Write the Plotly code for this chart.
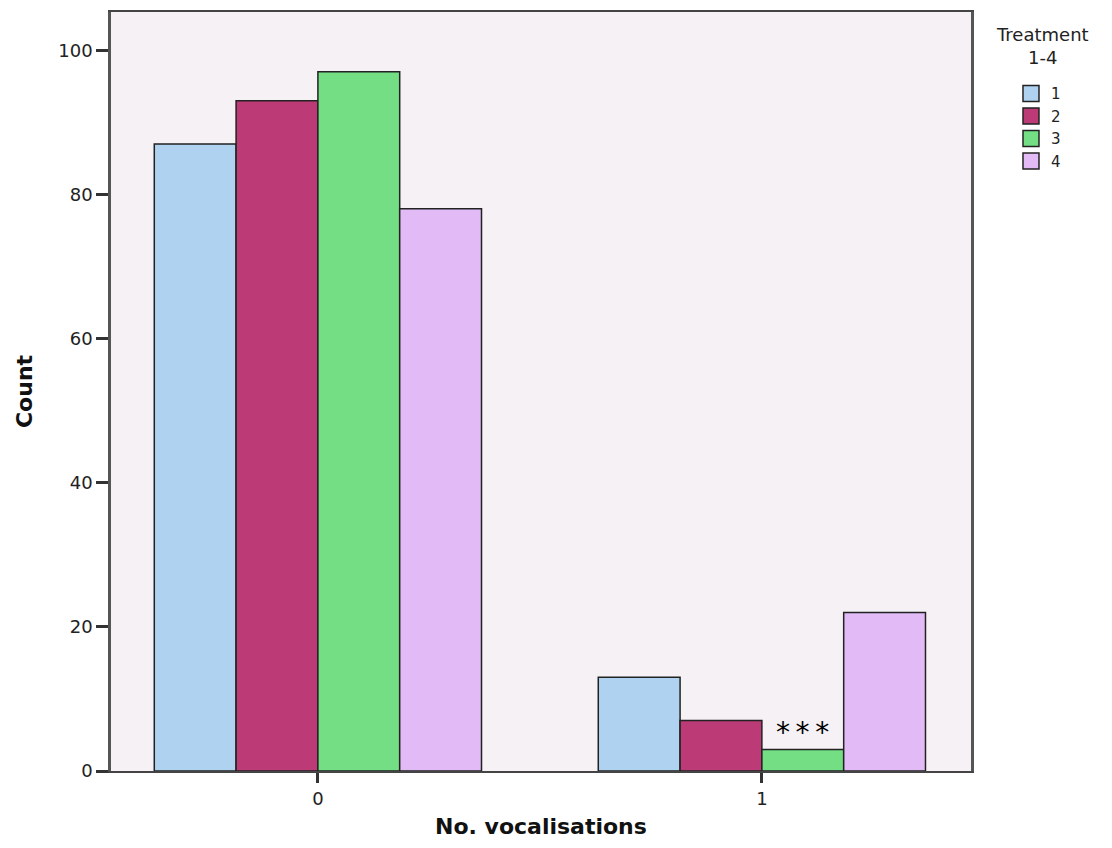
import plotly.graph_objects as go

categories = ["0", "1"]
treatments = ["1", "2", "3", "4"]
counts = {
    "1": [87, 13],
    "2": [93, 7],
    "3": [97, 3],
    "4": [78, 22],
}
colors = ["#AED2EF", "#BC3A76", "#73DE84", "#E1BAF6"]
y_ticks = [0, 20, 40, 60, 80, 100]

FONT = "DejaVu Sans, Liberation Sans, Arial, sans-serif"

fig = go.Figure()
for t, c in zip(treatments, colors):
    fig.add_trace(go.Bar(
        x=[0, 1], y=counts[t], name=t, showlegend=False,
        marker=dict(color=c, line=dict(color="#222222", width=1.5)),
    ))
# legend entries with larger square swatches
for t, c in zip(treatments, colors):
    fig.add_trace(go.Scatter(
        x=[None], y=[None], mode="markers", name=t,
        marker=dict(symbol="square", size=16, color=c, line=dict(color="#222222", width=1.5)),
    ))

bargap = 0.263
bw = (1 - bargap) / 4
fig.add_annotation(x=1 + bw / 2, y=counts["3"][1], yshift=-2, yanchor="bottom",
                   text="*\u2009*\u2009*", showarrow=False, xref="x", yref="y",
                   font=dict(size=28, color="#000000", family=FONT))

# legend title, centred above the swatches
fig.add_annotation(x=1.0837, y=1.0, xref="paper", yref="paper", xanchor="center", yanchor="top",
                   yshift=-10, text="Treatment<br>1-4", showarrow=False, align="center",
                   font=dict(size=18, color="#222222", family=FONT))

# x-axis title
fig.add_annotation(x=0.5, y=0, xref="paper", yref="paper", xanchor="center", yanchor="middle",
                   yshift=-55, text="<b>No. vocalisations</b>", showarrow=False,
                   font=dict(size=22, color="#111111", family=FONT))

fig.update_layout(
    width=1096, height=832,
    barmode="group", bargap=bargap, bargroupgap=0,
    plot_bgcolor="#F6F1F5", paper_bgcolor="#FFFFFF",
    margin=dict(l=103, r=133, t=4, b=69, autoexpand=False),
    font=dict(family=FONT, size=16, color="#222222"),
    xaxis=dict(
        range=[-0.466, 1.471], tickmode="array", tickvals=[0, 1], ticktext=categories,
        showgrid=False, zeroline=False, showline=True, linecolor="#444444", linewidth=2,
        mirror=True, ticks="outside", ticklen=10, tickwidth=2.5, tickcolor="#333333",
        tickfont=dict(size=18),
    ),
    yaxis=dict(
        range=[0, 105.3], tickvals=y_ticks, showgrid=False, zeroline=False,
        showline=True, linecolor="#555555", linewidth=2.5, mirror=True,
        ticks="outside", ticklen=12, tickwidth=2.5, tickcolor="#333333",
        tickfont=dict(size=18),
        title=dict(text="<b>Count</b>", font=dict(size=22, color="#111111"), standoff=20),
    ),
    legend=dict(
        x=1.0465, xanchor="left", y=0.914, yanchor="top",
        font=dict(size=15), tracegroupgap=0, itemsizing="trace",
        bgcolor="rgba(0,0,0,0)",
    ),
)

fig.write_html("out.html")
